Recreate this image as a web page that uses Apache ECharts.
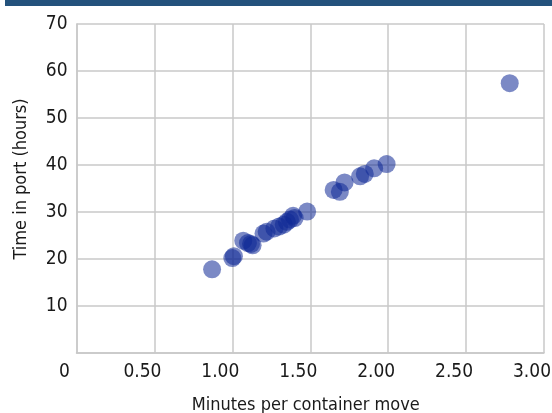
<!DOCTYPE html>
<html>
<head>
<meta charset="utf-8">
<script src="https://cdn.jsdelivr.net/npm/echarts@6/dist/echarts.min.js"></script>
<style>
  html, body { margin: 0; padding: 0; background: #fff; }
  #chart { width: 552px; height: 413px; }
</style>
</head>
<body>
<div id="chart"></div>
<script>
// minutes per container move
const minutesPerMove = [0.87, 1.00, 1.01, 1.07, 1.10, 1.12, 1.13, 1.20, 1.22, 1.27, 1.30, 1.33, 1.35,
  1.37, 1.39, 1.40, 1.48, 1.65, 1.69, 1.72, 1.82, 1.85, 1.91, 1.99, 2.78];
// time in port (hours)
const hoursInPort = [17.8, 20.2, 20.6, 23.9, 23.4, 23.2, 22.9, 25.4, 25.8, 26.5, 26.9, 27.3, 27.9,
  28.4, 29.2, 28.7, 30.1, 34.7, 34.3, 36.3, 37.6, 38.1, 39.3, 40.2, 57.4];
const xTickLabels = ['0', '0.50', '1.00', '1.50', '2.00', '2.50', '3.00'];
const yTickLabels = ['', '10', '20', '30', '40', '50', '60', '70'];

const font = "'DejaVu Sans Condensed', sans-serif";

const chart = echarts.init(document.getElementById('chart'), null, { renderer: 'canvas' });

const points = minutesPerMove.map((x, i) => [x, hoursInPort[i]]);

const option = {
  animation: false,
  backgroundColor: '#ffffff',
  graphic: [{
    type: 'rect',
    shape: { x: 5, y: 0, width: 547, height: 6 },
    style: { fill: '#23527c' }
  }],
  grid: {
    left: 76.5,
    right: 8,
    top: 24,
    bottom: 60,
    outerBoundsMode: 'none'
  },
  xAxis: {
    type: 'value',
    min: 0,
    max: 3,
    interval: 0.5,
    name: 'Minutes per container move',
    nameLocation: 'middle',
    nameGap: 43,
    nameTextStyle: { fontFamily: font, fontSize: 18, color: '#1a1a1a', padding: [0, 9, 0, 0] },
    axisLine: { lineStyle: { color: '#c8c8c8', width: 1.5 } },
    axisTick: { show: false },
    axisLabel: {
      fontFamily: font,
      fontSize: 19,
      color: '#1a1a1a',
      margin: 10,
      padding: [0, 24, 0, 0],
      formatter: (v) => xTickLabels[Math.round(v / 0.5)]
    },
    splitLine: { show: true, lineStyle: { color: '#c8c8c8', width: 1.5 } }
  },
  yAxis: {
    type: 'value',
    min: 0,
    max: 70,
    interval: 10,
    name: 'Time in port (hours)',
    nameLocation: 'middle',
    nameGap: 46,
    nameRotate: 90,
    nameTextStyle: { fontFamily: font, fontSize: 18, color: '#1a1a1a', padding: [0, 0, 0, 19] },
    axisLine: { show: true, lineStyle: { color: '#c8c8c8', width: 1.5 } },
    axisTick: { show: false },
    axisLabel: {
      fontFamily: font,
      fontSize: 19,
      color: '#1a1a1a',
      margin: 9,
      formatter: (v) => yTickLabels[Math.round(v / 10)]
    },
    splitLine: { show: true, lineStyle: { color: '#c8c8c8', width: 1.5 } }
  },
  series: [{
    type: 'scatter',
    data: points,
    symbolSize: 18,
    itemStyle: { color: 'rgb(15, 40, 150)', opacity: 0.55 }
  }]
};

chart.setOption(option);
</script>
</body>
</html>
